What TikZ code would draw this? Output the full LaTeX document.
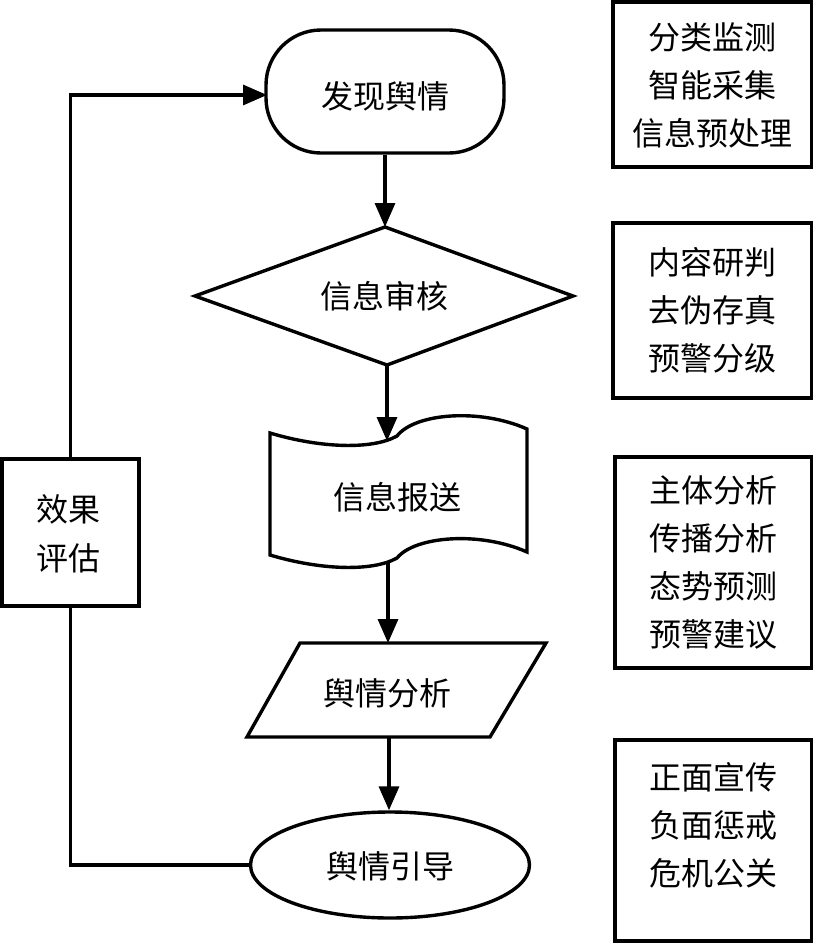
\documentclass[tikz,border=0pt]{standalone}
\usepackage{fontspec}
\newfontfamily\cjk{Noto Sans CJK SC}
\usetikzlibrary{arrows.meta,shapes.geometric}
\begin{document}
\begin{tikzpicture}[x=1pt,y=-1pt,
  shp/.style={draw, line width=3.4pt},
  lbl/.style={font=\cjk\fontsize{32pt}{48pt}\selectfont, align=center, inner sep=0pt},
  arr/.style={line width=3.4pt, -{Triangle[length=24pt,width=20pt]}},
  ln/.style={line width=3.4pt}]
\useasboundingbox (0,0) rectangle (813,951);
% terminal
\node[shp, rounded corners=55pt, minimum width=238pt, minimum height=123pt, inner sep=0pt] (term) at (385,91.5) {};
\node[lbl] (termt) at (385,96) {发现舆情};
% diamond
\coordinate (dtop) at (385,227);
\coordinate (dbot) at (387,365);
\draw[shp] (195,296) -- (dtop) -- (573,296) -- (dbot) -- cycle;
\node[lbl] (diat) at (384,296) {信息审核};
% document
\draw[shp] (270,433) .. controls (320,448) and (372,450) .. (397,436) .. controls (415,413) and (480,408) .. (527,429) -- (527,552) .. controls (480,531) and (415,536) .. (397,558) .. controls (372,572) and (320,570) .. (270,555) -- cycle;
\node[lbl] (doct) at (397,497) {信息报送};
\coordinate (doctop) at (387,441);
\coordinate (docbot) at (388,563);
% parallelogram
\coordinate (ptop) at (388,643);
\coordinate (pbot) at (389,737);
\draw[shp] (300,643) -- (546,643) -- (490,737) -- (247,737) -- cycle;
\node[lbl] (part) at (387,693) {舆情分析};
% ellipse
\node[shp, ellipse, minimum width=279pt, minimum height=106pt, inner sep=0pt] (ell) at (390,865) {};
\node[lbl] (ellt) at (390,866) {舆情引导};
% evaluation box
\node[shp, minimum width=137pt, minimum height=147pt, inner sep=0pt] (eval) at (70.5,532.5) {};
\node[lbl, font=\cjk\fontsize{32pt}{49pt}\selectfont] (evalt) at (68,533.5) {效果\\评估};
% right boxes
\node[shp, minimum width=199pt, minimum height=165pt, inner sep=0pt] (b1) at (712.5,84.5) {};
\node[lbl] (b1t) at (712.5,85) {分类监测\\智能采集\\信息预处理};
\node[shp, minimum width=199pt, minimum height=175pt, inner sep=0pt] (b2) at (712.5,310.5) {};
\node[lbl] (b2t) at (712.5,310) {内容研判\\去伪存真\\预警分级};
\node[shp, minimum width=197pt, minimum height=211pt, inner sep=0pt] (b3) at (713.5,562.5) {};
\node[lbl] (b3t) at (713.5,562) {主体分析\\传播分析\\态势预测\\预警建议};
\node[shp, minimum width=197pt, minimum height=201pt, inner sep=0pt] (b4) at (713.5,840.5) {};
\node[lbl] (b4t) at (713.5,825) {正面宣传\\负面惩戒\\危机公关};
% connectors
\draw[arr] (term.south -| dtop) -- (dtop);
\draw[arr] (dbot) -- (doctop);
\draw[arr] (docbot) -- (ptop);
\draw[arr] (pbot) -- (ell.north -| pbot);
\coordinate (fbin) at (267,95);
\draw[ln] (ell.west) -| (eval.south);
\draw[arr] (eval.north) |- (fbin);
\end{tikzpicture}
\end{document}
